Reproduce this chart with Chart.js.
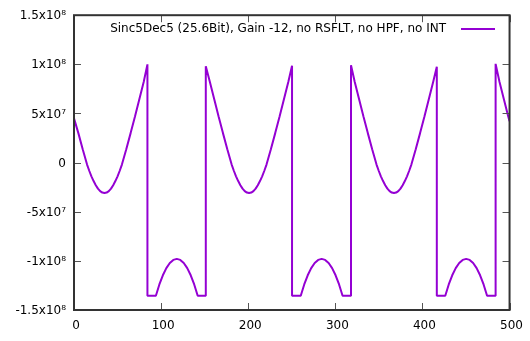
<!DOCTYPE html>
<html>
<head>
<meta charset="utf-8">
<script src="https://cdn.jsdelivr.net/npm/chart.js@4"></script>
<style>
    body { margin: 0; background: #fff; }
    canvas { display: block; }
</style>
</head>
<body>
<canvas id="chart" width="530" height="341"></canvas>
<script>
// Series data, values in units of 1e6
const xValues = [
    0, 5, 10, 15, 17.5, 20, 22.5, 25, 27.5, 30, 32.5, 35, 37.5, 40, 42.5, 45, 47.5, 50, 52.5, 55, 60, 65, 70, 75, 80, 84.3,
    84.3, 94, 98, 102, 106, 110, 114, 118, 122, 126, 130, 134, 138, 142, 151.3,
    151.3, 156, 161, 166, 171, 176, 181, 183.5, 186, 188.5, 191, 193.5, 196, 198.5, 201, 203.5, 206, 208.5, 211, 213.5, 216, 218.5, 221, 226, 231, 236, 241, 246, 250.3,
    250.3, 260.3, 264.3, 268.3, 272.3, 276.3, 280.3, 284.3, 288.3, 292.3, 296.3, 300.3, 304.3, 308.3, 318,
    318, 322.3, 327.3, 332.3, 337.3, 342.3, 347.3, 349.8, 352.3, 354.8, 357.3, 359.8, 362.3, 364.8, 367.3, 369.8, 372.3, 374.8, 377.3, 379.8, 382.3, 384.8, 387.3, 392.3, 397.3, 402.3, 407.3, 412.3, 416.5,
    416.5, 426.2, 430.2, 434.2, 438.2, 442.2, 446.2, 450.2, 454.2, 458.2, 462.2, 466.2, 470.2, 474.2, 484,
    484, 488.5, 493.5, 498.5, 500
];
const yValues = [
    45, 30, 13.5, -2, -8.3, -14, -18.8, -23, -26.5, -29, -30.5, -31, -30.5, -29, -26.5, -23, -18.8, -14, -8.3, -2, 13.5, 30, 47, 64.5, 82, 100,
    -135.5, -135.5, -124, -114.7, -107.4, -102.2, -99, -98, -99, -102.2, -107.4, -114.7, -124, -135.5, -135.5,
    98, 82, 64.5, 47, 30, 13.5, -2, -8.3, -14, -18.8, -23, -26.5, -29, -30.5, -31, -30.5, -29, -26.5, -23, -18.8, -14, -8.3, -2, 13.5, 30, 47, 64.5, 82, 98.5,
    -135.5, -135.5, -124, -114.7, -107.4, -102.2, -99, -98, -99, -102.2, -107.4, -114.7, -124, -135.5, -135.5,
    99, 82, 64.5, 47, 30, 13.5, -2, -8.3, -14, -18.8, -23, -26.5, -29, -30.5, -31, -30.5, -29, -26.5, -23, -18.8, -14, -8.3, -2, 13.5, 30, 47, 64.5, 82, 97.5,
    -135.5, -135.5, -124, -114.7, -107.4, -102.2, -99, -98, -99, -102.2, -107.4, -114.7, -124, -135.5, -135.5,
    100.5, 82, 64.5, 47, 42
];

const seriesLabel = 'Sinc5Dec5 (25.6Bit), Gain -12, no RSFLT, no HPF, no INT';

// Tick values and labels
const xTickValues = [0, 100, 200, 300, 400, 500];
const yTickValues = [-150, -100, -50, 0, 50, 100, 150];
const yTickLabels = ['-1.5x10⁸', '-1x10⁸', '-5x10⁷', '0', '5x10⁷', '1x10⁸', '1.5x10⁸'];

const FONT = "'DejaVu Sans', sans-serif";
const LINE_COLOR = '#9400D3';

// Border box, inward ticks on all sides and gnuplot-style key
const gnuplotFrame = {
    id: 'gnuplotFrame',
    afterDraw(chart) {
        const ctx = chart.ctx;
        const area = chart.chartArea;
        const xs = chart.scales.x;
        const ys = chart.scales.y;
        const tickLen = 7;

        ctx.save();
        // ticks
        ctx.strokeStyle = '#555';
        ctx.lineWidth = 1;
        ctx.beginPath();
        xTickValues.forEach(v => {
            const px = Math.round(xs.getPixelForValue(v)) + 0.5;
            ctx.moveTo(px, area.bottom);
            ctx.lineTo(px, area.bottom - tickLen);
            ctx.moveTo(px, area.top);
            ctx.lineTo(px, area.top + tickLen);
        });
        yTickValues.forEach(v => {
            const py = Math.round(ys.getPixelForValue(v)) + 0.5;
            ctx.moveTo(area.left, py);
            ctx.lineTo(area.left + tickLen, py);
            ctx.moveTo(area.right, py);
            ctx.lineTo(area.right - tickLen, py);
        });
        ctx.stroke();

        // border
        ctx.strokeStyle = '#333';
        ctx.lineWidth = 2;
        ctx.strokeRect(area.left, area.top, area.right - area.left, area.bottom - area.top);

        // key
        const keyY = 29;
        ctx.fillStyle = '#000';
        ctx.font = '12px ' + FONT;
        ctx.textAlign = 'right';
        ctx.textBaseline = 'middle';
        ctx.fillText(seriesLabel, 446, keyY);
        ctx.strokeStyle = LINE_COLOR;
        ctx.lineWidth = 2;
        ctx.beginPath();
        ctx.moveTo(461, keyY);
        ctx.lineTo(495, keyY);
        ctx.stroke();
        ctx.restore();
    }
};

const points = xValues.map((x, i) => ({ x: x, y: yValues[i] }));

new Chart(document.getElementById('chart'), {
    type: 'line',
    data: {
        datasets: [{
            label: seriesLabel,
            data: points,
            borderColor: LINE_COLOR,
            borderWidth: 2,
            borderJoinStyle: 'bevel',
            pointRadius: 0,
            tension: 0,
            fill: false
        }]
    },
    options: {
        responsive: false,
        animation: false,
        devicePixelRatio: 1,
        layout: {
            padding: { left: 0, right: 20, top: 15, bottom: 0 }
        },
        plugins: {
            legend: { display: false },
            tooltip: { enabled: false }
        },
        scales: {
            x: {
                type: 'linear',
                min: 0,
                max: 500,
                afterFit: function(scale) { scale.height = 31; },
                grid: { display: false, drawTicks: false },
                border: { display: false },
                ticks: {
                    stepSize: 100,
                    padding: 9,
                    labelOffset: 2,
                    color: '#000',
                    font: { family: FONT, size: 12 },
                    maxRotation: 0
                }
            },
            y: {
                type: 'linear',
                min: -150,
                max: 150,
                afterFit: function(scale) { scale.width = 74; },
                grid: { display: false, drawTicks: false },
                border: { display: false },
                ticks: {
                    stepSize: 50,
                    padding: 8,
                    labelOffset: 1,
                    color: '#000',
                    font: { family: FONT, size: 12 },
                    callback: function(value) {
                        const idx = yTickValues.indexOf(value);
                        return idx >= 0 ? yTickLabels[idx] : '';
                    }
                }
            }
        }
    },
    plugins: [gnuplotFrame]
});
</script>
</body>
</html>
